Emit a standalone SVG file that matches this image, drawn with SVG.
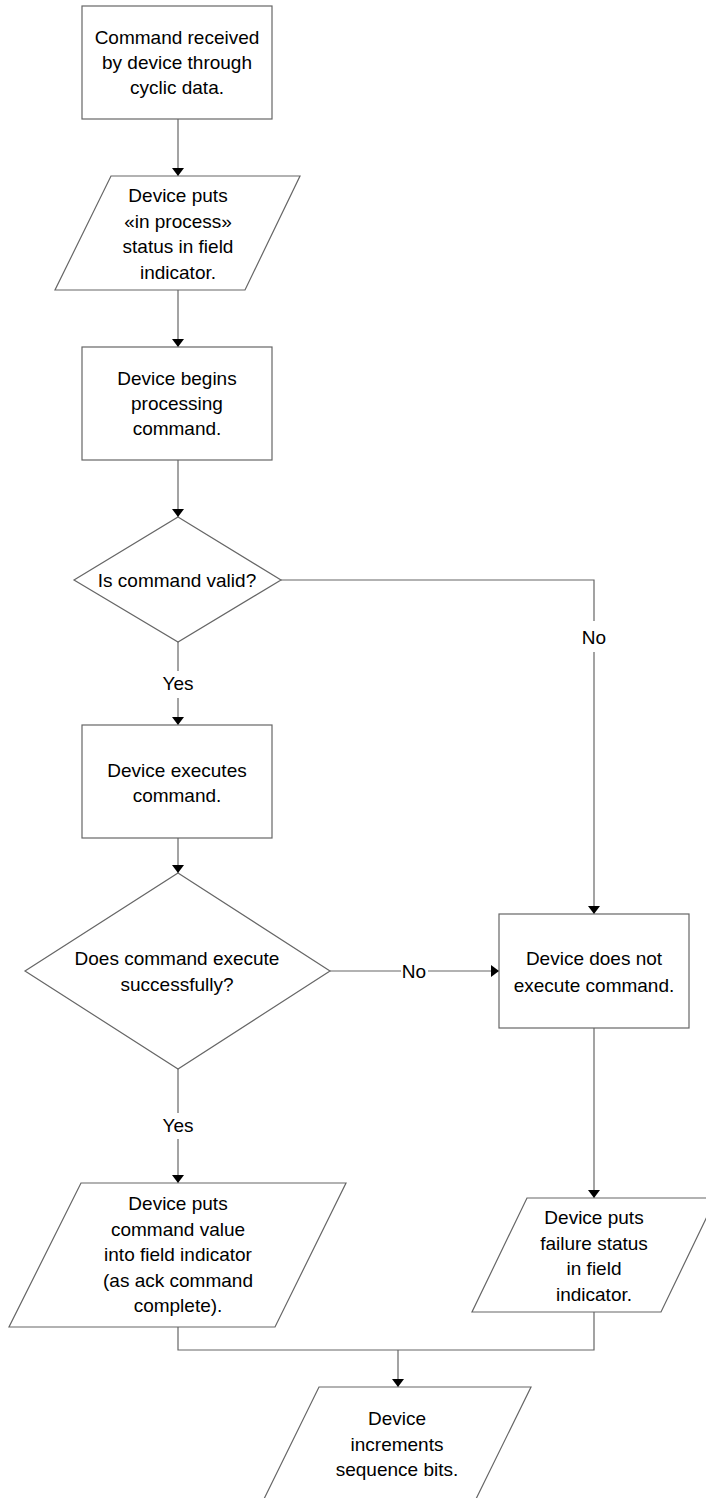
<svg xmlns="http://www.w3.org/2000/svg" width="706" height="1498" viewBox="0 0 706 1498">
<defs>
<marker id="arr" markerUnits="userSpaceOnUse" markerWidth="8" markerHeight="12" refX="8" refY="6" orient="auto" viewBox="0 0 8 12">
<path d="M0,0 L8,6 L0,12 z" fill="#000"/>
</marker>
<style>
.shape{fill:#fff;stroke:#666;stroke-width:1.2}
.conn{fill:none;stroke:#666;stroke-width:1.2}
text{font-family:"Liberation Sans",Arial,sans-serif;font-size:19px;fill:#000;text-anchor:middle}
</style>
</defs>
<rect width="706" height="1498" fill="#fff"/>
<g id="connectors">
<path class="conn" d="M178,119 V176" marker-end="url(#arr)"/>
<path class="conn" d="M178,290 V347" marker-end="url(#arr)"/>
<path class="conn" d="M178,460 V517" marker-end="url(#arr)"/>
<path class="conn" d="M178,642 V671"/>
<path class="conn" d="M178,698 V725" marker-end="url(#arr)"/>
<text x="178" y="690">Yes</text>
<path class="conn" d="M281,580 H594 V621"/>
<path class="conn" d="M594,652 V914" marker-end="url(#arr)"/>
<text x="594" y="644">No</text>
<path class="conn" d="M178,838 V873" marker-end="url(#arr)"/>
<path class="conn" d="M330,971 H401"/>
<path class="conn" d="M428,971 H499" marker-end="url(#arr)"/>
<text x="414" y="978">No</text>
<path class="conn" d="M178,1069 V1113"/>
<path class="conn" d="M178,1139 V1183" marker-end="url(#arr)"/>
<text x="178" y="1132">Yes</text>
<path class="conn" d="M594,1028 V1198" marker-end="url(#arr)"/>
<path class="conn" d="M178,1327 V1350 H594 V1312"/>
<path class="conn" d="M398,1350 V1387" marker-end="url(#arr)"/>
</g>
<g id="n1">
<rect class="shape" x="82" y="6" width="190" height="113"/>
<text x="177" y="44">Command received</text>
<text x="177" y="69">by device through</text>
<text x="177" y="94">cyclic data.</text>
</g>
<g id="n2">
<polygon class="shape" points="111,176 300,176 245,290 55,290"/>
<text x="178" y="202">Device puts</text>
<text x="178" y="227.5">«in process»</text>
<text x="178" y="253">status in field</text>
<text x="178" y="278.5">indicator.</text>
</g>
<g id="n3">
<rect class="shape" x="82" y="347" width="190" height="113"/>
<text x="177" y="385">Device begins</text>
<text x="177" y="410">processing</text>
<text x="177" y="435">command.</text>
</g>
<g id="n4">
<polygon class="shape" points="178,517 281,580 178,642 74,580"/>
<text x="177" y="587">Is command valid?</text>
</g>
<g id="n5">
<rect class="shape" x="82" y="725" width="190" height="113"/>
<text x="177" y="776.5">Device executes</text>
<text x="177" y="801.5">command.</text>
</g>
<g id="n6">
<polygon class="shape" points="178,873 330,971 178,1069 25,971"/>
<text x="177" y="965">Does command execute</text>
<text x="177" y="991">successfully?</text>
</g>
<g id="n7">
<rect class="shape" x="499" y="914" width="190" height="114"/>
<text x="594" y="965">Device does not</text>
<text x="594" y="992">execute command.</text>
</g>
<g id="n8">
<polygon class="shape" points="81,1183 346,1183 275,1327 9,1327"/>
<text x="178" y="1210">Device puts</text>
<text x="178" y="1235.5">command value</text>
<text x="178" y="1261">into field indicator</text>
<text x="178" y="1286.5">(as ack command</text>
<text x="178" y="1312">complete).</text>
</g>
<g id="n9">
<polygon class="shape" points="527,1198 716,1198 661,1312 472,1312"/>
<text x="594" y="1224">Device puts</text>
<text x="594" y="1249.5">failure status</text>
<text x="594" y="1275">in field</text>
<text x="594" y="1300.5">indicator.</text>
</g>
<g id="n10">
<polygon class="shape" points="319,1387 531,1387 475,1501 263,1501"/>
<text x="397" y="1425">Device</text>
<text x="397" y="1450.5">increments</text>
<text x="397" y="1476">sequence bits.</text>
</g>
</svg>
